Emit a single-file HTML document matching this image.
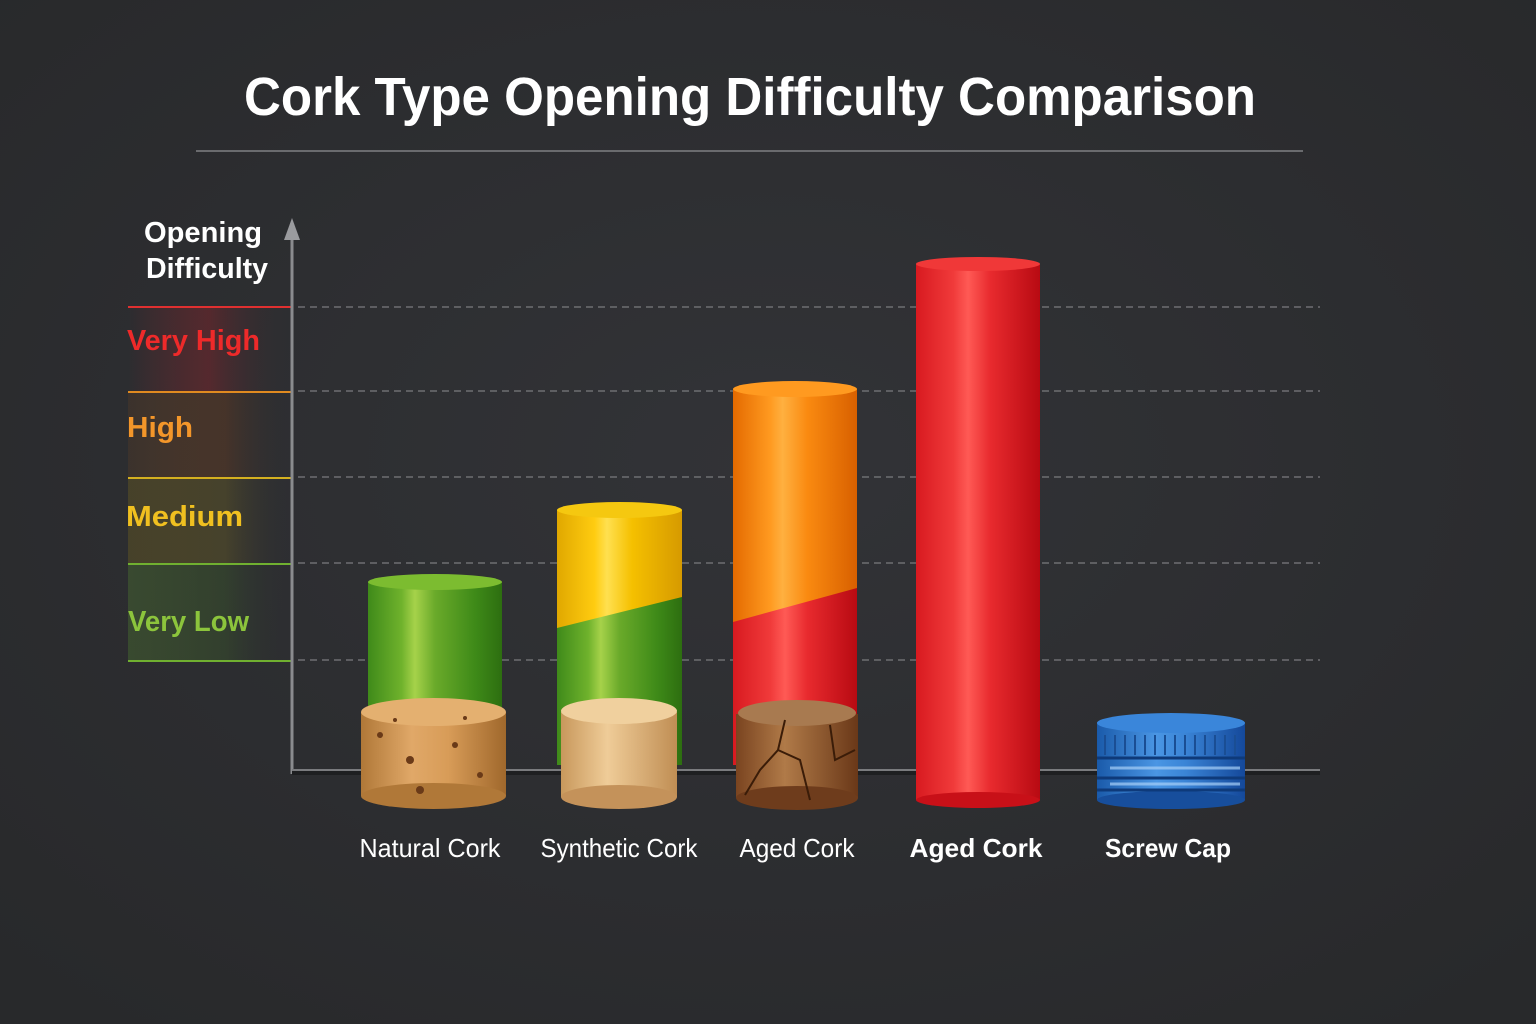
<!DOCTYPE html>
<html><head><meta charset="utf-8"><style>
html,body{margin:0;padding:0;background:#2d2e31;}
svg{display:block;font-family:"Liberation Sans",sans-serif;}
</style></head><body>
<svg width="1536" height="1024" viewBox="0 0 1536 1024" xmlns="http://www.w3.org/2000/svg">
<defs>
<radialGradient id="bg" cx="50%" cy="45%" r="70%"><stop offset="0" stop-color="#323337"/><stop offset="1" stop-color="#28292b"/></radialGradient>
<linearGradient id="gG" x1="0" x2="1"><stop offset="0" stop-color="#3f8a1a"/><stop offset=".25" stop-color="#6fb22c"/><stop offset=".35" stop-color="#a6d24a"/><stop offset=".5" stop-color="#6aaa2a"/><stop offset=".8" stop-color="#3e8a18"/><stop offset="1" stop-color="#2d6e10"/></linearGradient>
<linearGradient id="gY" x1="0" x2="1"><stop offset="0" stop-color="#e0a800"/><stop offset=".3" stop-color="#ffcc10"/><stop offset=".4" stop-color="#ffe050"/><stop offset=".6" stop-color="#f5c000"/><stop offset="1" stop-color="#d69a00"/></linearGradient>
<linearGradient id="gO" x1="0" x2="1"><stop offset="0" stop-color="#e46a00"/><stop offset=".3" stop-color="#ff9a20"/><stop offset=".4" stop-color="#ffb040"/><stop offset=".6" stop-color="#fa8a10"/><stop offset="1" stop-color="#d86000"/></linearGradient>
<linearGradient id="gR" x1="0" x2="1"><stop offset="0" stop-color="#d81a20"/><stop offset=".3" stop-color="#f03a3a"/><stop offset=".42" stop-color="#ff5a55"/><stop offset=".6" stop-color="#e82a2e"/><stop offset="1" stop-color="#b80a12"/></linearGradient>
<linearGradient id="gC" x1="0" x2="1"><stop offset="0" stop-color="#b07838"/><stop offset=".35" stop-color="#e0a868"/><stop offset=".6" stop-color="#d89c58"/><stop offset="1" stop-color="#a0682c"/></linearGradient>
<linearGradient id="gC2" x1="0" x2="1"><stop offset="0" stop-color="#c8985c"/><stop offset=".4" stop-color="#efcc98"/><stop offset="1" stop-color="#c08e54"/></linearGradient>
<linearGradient id="gC3" x1="0" x2="1"><stop offset="0" stop-color="#7a4420"/><stop offset=".4" stop-color="#b07a48"/><stop offset="1" stop-color="#6a3818"/></linearGradient>
<linearGradient id="gB" x1="0" x2="1"><stop offset="0" stop-color="#1a5aaa"/><stop offset=".4" stop-color="#4a96e4"/><stop offset=".6" stop-color="#3a84d6"/><stop offset="1" stop-color="#14489a"/></linearGradient>
<linearGradient id="lr" x1="0" x2="1"><stop offset="0" stop-color="#c0202a" stop-opacity=".0"/><stop offset=".5" stop-color="#a02028" stop-opacity=".35"/><stop offset="1" stop-color="#2d2e31" stop-opacity="0"/></linearGradient>
<linearGradient id="lo" x1="0" x2="1"><stop offset="0" stop-color="#c06010" stop-opacity=".1"/><stop offset=".6" stop-color="#804018" stop-opacity=".3"/><stop offset="1" stop-color="#2d2e31" stop-opacity="0"/></linearGradient>
<linearGradient id="ly" x1="0" x2="1"><stop offset="0" stop-color="#b09010" stop-opacity=".2"/><stop offset=".6" stop-color="#807020" stop-opacity=".3"/><stop offset="1" stop-color="#2d2e31" stop-opacity="0"/></linearGradient>
<linearGradient id="lg" x1="0" x2="1"><stop offset="0" stop-color="#60a030" stop-opacity=".25"/><stop offset=".6" stop-color="#406828" stop-opacity=".3"/><stop offset="1" stop-color="#2d2e31" stop-opacity="0"/></linearGradient>
</defs>
<rect width="1536" height="1024" fill="url(#bg)"/>
<text x="750" y="115" text-anchor="middle" font-size="54" font-weight="bold" fill="#fff" textLength="1012" lengthAdjust="spacingAndGlyphs">Cork Type Opening Difficulty Comparison</text>
<line x1="196" y1="151" x2="1303" y2="151" stroke="#6a6b6e" stroke-width="2"/>

<rect x="128" y="308" width="162" height="84" fill="url(#lr)"/>
<rect x="128" y="393" width="162" height="85" fill="url(#lo)"/>
<rect x="128" y="479" width="162" height="85" fill="url(#ly)"/>
<rect x="128" y="565" width="162" height="96" fill="url(#lg)"/>
<line x1="128" y1="307" x2="291" y2="307" stroke="#e03030" stroke-width="2"/>
<line x1="128" y1="392" x2="291" y2="392" stroke="#e08a20" stroke-width="2"/>
<line x1="128" y1="478" x2="291" y2="478" stroke="#d4b020" stroke-width="2"/>
<line x1="128" y1="564" x2="291" y2="564" stroke="#70b030" stroke-width="2"/>
<line x1="128" y1="661" x2="291" y2="661" stroke="#70b030" stroke-width="2"/>

<g stroke="#6e6f72" stroke-width="1.5" stroke-dasharray="7,5">
<line x1="298" y1="307" x2="1320" y2="307"/><line x1="298" y1="391" x2="1320" y2="391"/>
<line x1="298" y1="477" x2="1320" y2="477"/><line x1="298" y1="563" x2="1320" y2="563"/>
<line x1="298" y1="660" x2="1320" y2="660"/>
</g>
<text x="203" y="242" text-anchor="middle" font-size="29" font-weight="bold" fill="#fff" textLength="118" lengthAdjust="spacingAndGlyphs">Opening</text>
<text x="207" y="278" text-anchor="middle" font-size="29" font-weight="bold" fill="#fff" textLength="122" lengthAdjust="spacingAndGlyphs">Difficulty</text>
<text x="127" y="350" font-size="29" font-weight="bold" fill="#ee2a2a" textLength="133" lengthAdjust="spacingAndGlyphs">Very High</text>
<text x="127" y="437" font-size="29" font-weight="bold" fill="#f3962a" textLength="66" lengthAdjust="spacingAndGlyphs">High</text>
<text x="126" y="526" font-size="29" font-weight="bold" fill="#f0c020" textLength="117" lengthAdjust="spacingAndGlyphs">Medium</text>
<text x="128" y="631" font-size="29" font-weight="bold" fill="#8cc43c" textLength="121" lengthAdjust="spacingAndGlyphs">Very Low</text>

<line x1="292" y1="236" x2="292" y2="774" stroke="#8a8b8e" stroke-width="3"/>
<polygon points="292,218 284,240 300,240" fill="#9a9b9e"/>
<line x1="292" y1="772" x2="1320" y2="772" stroke="#1e1f21" stroke-width="6"/>
<line x1="292" y1="770" x2="1320" y2="770" stroke="#7a7b7e" stroke-width="2"/>

<rect x="368" y="582" width="134" height="183" fill="url(#gG)"/>
<ellipse cx="435" cy="582" rx="67" ry="8" fill="#7cbc30"/>
<rect x="557" y="510" width="125" height="255" fill="url(#gG)"/>
<path d="M557 510 H682 V597 L557 628 Z" fill="url(#gY)"/>
<ellipse cx="619.5" cy="510" rx="62.5" ry="8" fill="#f5c810"/>
<rect x="733" y="389" width="124" height="376" fill="url(#gR)"/>
<path d="M733 389 H857 V588 L733 622 Z" fill="url(#gO)"/>
<ellipse cx="795" cy="389" rx="62" ry="8" fill="#ff9a20"/>
<rect x="916" y="264" width="124" height="536" fill="url(#gR)"/>
<ellipse cx="978" cy="800" rx="62" ry="8" fill="#c81018"/>
<ellipse cx="978" cy="264" rx="62" ry="7" fill="#f03838"/>

<rect x="361" y="712" width="145" height="84" fill="url(#gC)"/>
<ellipse cx="433.5" cy="796" rx="72.5" ry="13" fill="#b07838"/>
<ellipse cx="433.5" cy="712" rx="72.5" ry="14" fill="#e4b070"/>
<g fill="#6a3a18"><circle cx="380" cy="735" r="3"/><circle cx="410" cy="760" r="4"/><circle cx="455" cy="745" r="3"/><circle cx="480" cy="775" r="3"/><circle cx="420" cy="790" r="4"/><circle cx="395" cy="720" r="2"/><circle cx="465" cy="718" r="2"/></g>
<rect x="561" y="712" width="116" height="85" fill="url(#gC2)"/>
<ellipse cx="619" cy="797" rx="58" ry="12" fill="#c4925a"/>
<ellipse cx="619" cy="711" rx="58" ry="13" fill="#f0d09e"/>
<rect x="736" y="714" width="122" height="84" fill="url(#gC3)"/>
<ellipse cx="797" cy="798" rx="61" ry="12" fill="#6e3c1c"/>
<ellipse cx="797" cy="713" rx="59" ry="13" fill="#a87a50"/>
<path d="M785 720 L778 750 L760 770 L745 795 M778 750 L800 760 L810 800 M830 725 L835 760 L855 750" stroke="#3a1c08" stroke-width="2" fill="none"/>

<rect x="1097" y="722" width="148" height="78" fill="url(#gB)"/>
<ellipse cx="1171" cy="800" rx="74" ry="9" fill="#174e9c"/>
<g stroke="#0e3a7a" stroke-width="3"><line x1="1097" y1="758" x2="1245" y2="758"/><line x1="1097" y1="778" x2="1245" y2="778"/><line x1="1097" y1="790" x2="1245" y2="790"/></g>
<g stroke="#a8d0f8" stroke-width="3" opacity=".7"><line x1="1110" y1="768" x2="1240" y2="768"/><line x1="1110" y1="784" x2="1240" y2="784"/></g>
<g stroke="#1a4e94" stroke-width="2"><line x1="1105" y1="735" x2="1105" y2="755"/><line x1="1115" y1="735" x2="1115" y2="755"/><line x1="1125" y1="735" x2="1125" y2="755"/><line x1="1135" y1="735" x2="1135" y2="755"/><line x1="1145" y1="735" x2="1145" y2="755"/><line x1="1155" y1="735" x2="1155" y2="755"/><line x1="1165" y1="735" x2="1165" y2="755"/><line x1="1175" y1="735" x2="1175" y2="755"/><line x1="1185" y1="735" x2="1185" y2="755"/><line x1="1195" y1="735" x2="1195" y2="755"/><line x1="1205" y1="735" x2="1205" y2="755"/><line x1="1215" y1="735" x2="1215" y2="755"/><line x1="1225" y1="735" x2="1225" y2="755"/><line x1="1235" y1="735" x2="1235" y2="755"/></g>
<ellipse cx="1171" cy="723" rx="74" ry="10" fill="#3a86da"/>

<g font-size="26" fill="#fff" text-anchor="middle">
<text x="430" y="857" textLength="141" lengthAdjust="spacingAndGlyphs">Natural Cork</text>
<text x="619" y="857" textLength="157" lengthAdjust="spacingAndGlyphs">Synthetic Cork</text>
<text x="797" y="857" textLength="115" lengthAdjust="spacingAndGlyphs">Aged Cork</text>
<text x="976" y="857" font-weight="bold" textLength="133" lengthAdjust="spacingAndGlyphs">Aged Cork</text>
<text x="1168" y="857" font-weight="bold" textLength="126" lengthAdjust="spacingAndGlyphs">Screw Cap</text>
</g>
</svg>
</body></html>
